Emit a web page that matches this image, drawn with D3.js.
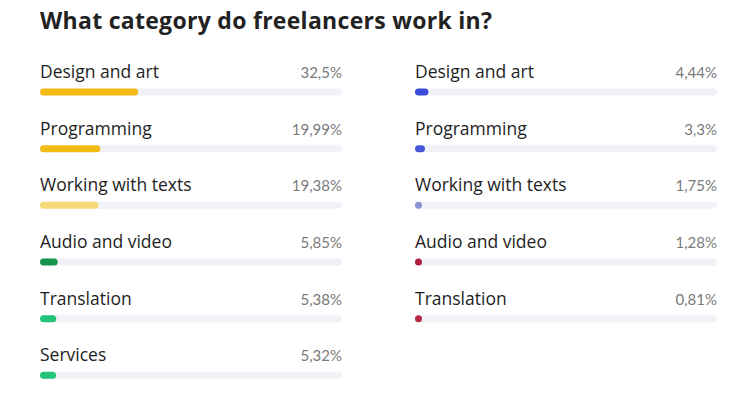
<!DOCTYPE html>
<html>
<head>
<meta charset="utf-8">
<script src="https://cdn.jsdelivr.net/npm/d3@7"></script>
<style>
body{margin:0;background:#fff;}
svg{display:block;}
</style>
</head>
<body>
<svg id="chart" width="750" height="399"></svg>
<script>
const title = "What category do freelancers work in?";
const leftCategories = ["Design and art","Programming","Working with texts","Audio and video","Translation","Services"];
const leftValues = [32.5, 19.99, 19.38, 5.85, 5.38, 5.32];
const leftLabels = ["32,5%","19,99%","19,38%","5,85%","5,38%","5,32%"];
const leftColors = ["#f4bb17","#f4bb17","#f6da77","#17924c","#22c47a","#22c47a"];
const rightCategories = ["Design and art","Programming","Working with texts","Audio and video","Translation"];
const rightValues = [4.44, 3.3, 1.75, 1.28, 0.81];
const rightLabels = ["4,44%","3,3%","1,75%","1,28%","0,81%"];
const rightColors = ["#3a4bd6","#4556da","#8c93cf","#b01e3c","#b82a44"];

const svg = d3.select("#chart");
const font = "'Open Sans', sans-serif";
const lfont = "Lato, sans-serif";

svg.append("text").attr("x", 40).attr("y", 29)
  .attr("font-family", font).attr("font-weight", 700).attr("font-size", 23)
  .attr("fill", "#222").attr("textLength", 452).attr("lengthAdjust", "spacing").text(title);

const rowY = d3.scaleBand().domain(d3.range(6)).range([56, 396]);
const barH = 7;

function column(cats, vals, labels, colors, x0) {
  const w = 302;
  const x = d3.scaleLinear().domain([0, 100]).range([0, w]);
  const g = svg.append("g").attr("transform", `translate(${x0},0)`);
  const rows = g.selectAll("g.row").data(cats.map((c,i)=>({c, v:vals[i], l:labels[i], col:colors[i], i})))
    .enter().append("g").attr("class","row")
    .attr("transform", d => `translate(0,${rowY(d.i)})`);
  rows.append("text").attr("x", 0).attr("y", 22)
    .attr("font-family", font).attr("font-size", 17.5).attr("fill", "#1e1e1e").text(d => d.c);
  rows.append("text").attr("x", w).attr("y", 22).attr("text-anchor","end")
    .attr("font-family", lfont).attr("font-size", 15).attr("fill", "#7a7a7a").text(d => d.l);
  rows.append("rect").attr("x", 0).attr("y", 36 - barH/2).attr("width", w).attr("height", barH)
    .attr("rx", barH/2).attr("fill", "#f0f2f8");
  rows.append("rect").attr("x", 0).attr("y", 36 - barH/2)
    .attr("width", d => Math.max(barH, x(d.v))).attr("height", barH)
    .attr("rx", barH/2).attr("fill", d => d.col);
}
column(leftCategories, leftValues, leftLabels, leftColors, 40);
column(rightCategories, rightValues, rightLabels, rightColors, 415);
</script>
</body>
</html>
